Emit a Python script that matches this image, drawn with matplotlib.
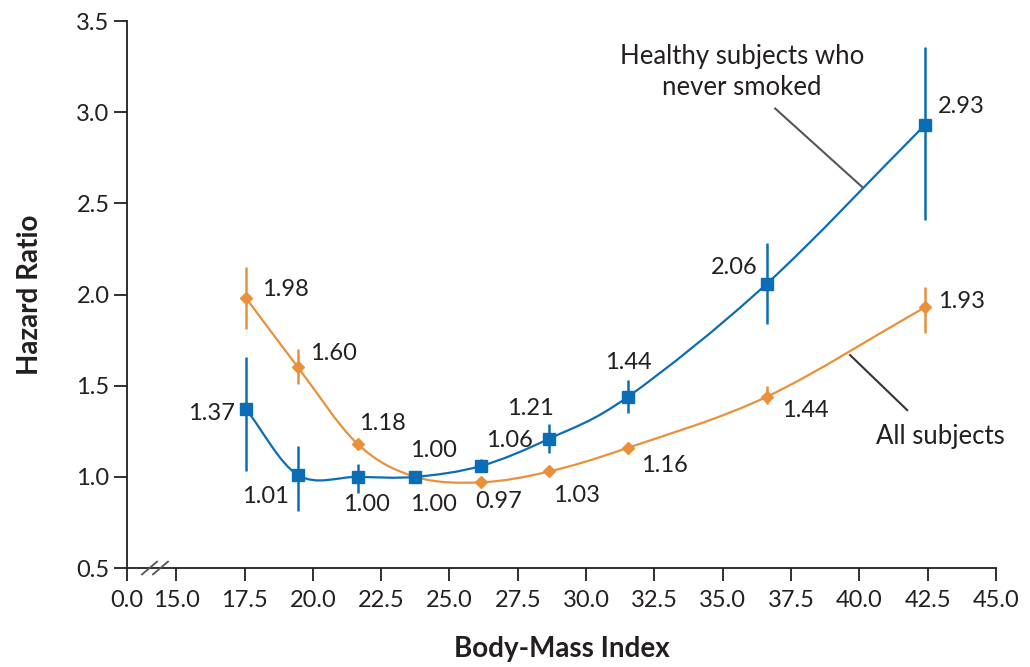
import numpy as np
import matplotlib
matplotlib.use('Agg')
import matplotlib.pyplot as plt
from matplotlib.path import Path
from matplotlib.patches import PathPatch

plt.rcParams['font.family'] = ['Lato', 'DejaVu Sans']

# BMI group midpoints
bmi = [17.56, 19.46, 21.64, 23.75, 26.16, 28.66, 31.54, 36.62, 42.4]

# healthy subjects who never smoked
hr_healthy = [1.37, 1.01, 1.00, 1.00, 1.06, 1.21, 1.44, 2.06, 2.93]
lo_healthy = [1.03, 0.81, 0.91, 0.98, 1.03, 1.13, 1.35, 1.84, 2.41]
hi_healthy = [1.66, 1.17, 1.07, 1.02, 1.10, 1.29, 1.53, 2.28, 3.36]

# all subjects
hr_all = [1.98, 1.60, 1.18, 1.00, 0.97, 1.03, 1.16, 1.44, 1.93]
lo_all = [1.81, 1.51, 1.15, 0.99, 0.96, 1.01, 1.14, 1.40, 1.79]
hi_all = [2.15, 1.70, 1.21, 1.01, 0.98, 1.05, 1.18, 1.50, 2.04]

xticks = [15.0, 17.5, 20.0, 22.5, 25.0, 27.5, 30.0, 32.5, 35.0, 37.5, 40.0, 42.5, 45.0]
yticks = [0.5, 1.0, 1.5, 2.0, 2.5, 3.0, 3.5]

blue = '#0b6db5'
orange = '#e8913a'
ink = '#231f20'

# label offsets in pixels (dx, dy) from each point
off_healthy = [(-35, -4), (-33, -21), (9, -28), (18, -28), (28, 25),
               (-19, 30), (0, 34), (-33, 16), (36, 18)]
off_all = [(39, 9), (35, 14), (25, 21), (18, 26), (17, -19),
           (27, -24), (36, -18), (38, -14), (37, 6)]


def smooth_path(xs, ys):
    pts = np.column_stack([xs, ys])
    n = len(pts)
    tang = np.zeros_like(pts)
    tang[0] = pts[1] - pts[0]
    tang[-1] = pts[-1] - pts[-2]
    for i in range(1, n - 1):
        tang[i] = (pts[i + 1] - pts[i - 1]) / 2.0
    verts = [pts[0]]
    codes = [Path.MOVETO]
    for i in range(n - 1):
        verts += [pts[i] + tang[i] / 3.0, pts[i + 1] - tang[i + 1] / 3.0, pts[i + 1]]
        codes += [Path.CURVE4] * 3
    return Path(verts, codes)


fig = plt.figure(figsize=(10.3, 6.67), dpi=100)
ax = fig.add_axes([0.1233, 0.1484, 0.8437, 0.8201])

for xs, ys, lo, hi, col, mk, ms, offs in [
        (bmi, hr_all, lo_all, hi_all, orange, 'D', 6, off_all),
        (bmi, hr_healthy, lo_healthy, hi_healthy, blue, 's', 8, off_healthy)]:
    ax.add_patch(PathPatch(smooth_path(xs, ys), facecolor='none', edgecolor=col, lw=1.6, zorder=2))
    ax.vlines(xs, lo, hi, color=col, lw=1.8, zorder=2)
    ax.plot(xs, ys, linestyle='none', marker=mk, ms=ms, color=col, zorder=3)
    for x, y, (dx, dy) in zip(xs, ys, offs):
        ax.annotate('%.2f' % y, (x, y), xytext=(dx, dy), textcoords='offset pixels',
                    ha='center', va='center', fontsize=17, color=ink)

xmin = 13.2
ax.set_xlim(xmin, 45.0)
ax.set_ylim(0.5, 3.5)
ax.set_xticks([xmin] + xticks)
ax.set_xticklabels(['0.0'] + ['%.1f' % t for t in xticks])
ax.set_yticks(yticks)
ax.set_yticklabels(['%.1f' % t for t in yticks])
ax.tick_params(labelsize=17, length=9.5, width=1.3, color=ink, labelcolor=ink)
ax.tick_params(axis='x', pad=6)
ax.tick_params(axis='y', pad=3)
for side in ['top', 'right']:
    ax.spines[side].set_visible(False)
for side in ['left', 'bottom']:
    ax.spines[side].set_linewidth(1.3)
    ax.spines[side].set_color(ink)

# axis break marks
for dx in [-0.25, 0.15]:
    ax.plot([14.0 + dx, 14.55 + dx], [0.465, 0.535], color='#555555', lw=1.3, clip_on=False, zorder=5)

ax.set_xlabel('Body-Mass Index', fontsize=20, fontweight='bold', labelpad=18, color=ink)
ax.set_ylabel('Hazard Ratio', fontsize=20, fontweight='bold', labelpad=24, color=ink)

ax.text(35.7, 3.22, 'Healthy subjects who\nnever smoked', ha='center', va='center',
        fontsize=18.5, color=ink, linespacing=1.3)
ax.plot([36.92, 40.1], [3.02, 2.59], color='#555555', lw=1.5)
ax.text(42.95, 1.22, 'All subjects', ha='center', va='center', fontsize=18.5, color=ink)
ax.plot([39.66, 41.75], [1.668, 1.366], color='#333333', lw=1.5)

fig.savefig('out.png', dpi=100)
